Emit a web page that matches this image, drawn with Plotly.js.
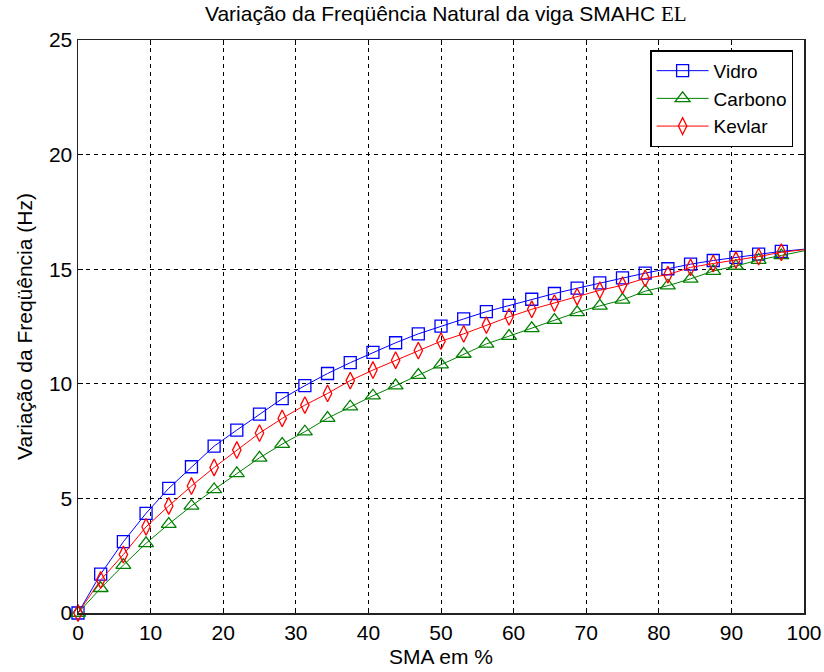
<!DOCTYPE html>
<html>
<head>
<meta charset="utf-8">
<script src="https://cdn.plot.ly/plotly-3.0.1.min.js"></script>
<style>body{margin:0;background:#fff}#chart{width:824px;height:672px}</style>
</head>
<body>
<div id="chart"></div>
<script>
// SMA content (%) at each computed point (last point = 100, drawn without marker)
const sma = [0, 3.125, 6.25, 9.375, 12.5, 15.625, 18.75, 21.875, 25, 28.125, 31.25, 34.375,
  37.5, 40.625, 43.75, 46.875, 50, 53.125, 56.25, 59.375, 62.5, 65.625, 68.75, 71.875,
  75, 78.125, 81.25, 84.375, 87.5, 90.625, 93.75, 96.875, 100];
const vidro = [0, 1.70, 3.11, 4.35, 5.44, 6.38, 7.28, 7.98, 8.68, 9.35, 9.92, 10.45, 10.92,
  11.37, 11.79, 12.18, 12.52, 12.83, 13.15, 13.42, 13.69, 13.94, 14.17, 14.40, 14.62,
  14.83, 15.02, 15.22, 15.38, 15.52, 15.66, 15.78, 15.87];
const carbono = [0, 1.08, 2.09, 3.04, 3.88, 4.67, 5.39, 6.09, 6.77, 7.37, 7.91, 8.50, 9.00,
  9.48, 9.92, 10.38, 10.84, 11.30, 11.74, 12.08, 12.42, 12.78, 13.12, 13.40, 13.66,
  14.04, 14.28, 14.58, 14.92, 15.14, 15.40, 15.60, 15.80];
const kevlar = [0, 1.44, 2.55, 3.76, 4.67, 5.54, 6.35, 7.11, 7.85, 8.49, 9.07, 9.58, 10.14,
  10.60, 11.03, 11.45, 11.86, 12.18, 12.56, 12.92, 13.25, 13.52, 13.80, 14.08, 14.30,
  14.60, 14.76, 15.08, 15.25, 15.40, 15.55, 15.74, 15.85];
const seriesNames = ['Vidro', 'Carbono', 'Kevlar'];
const xTicks = [0, 10, 20, 30, 40, 50, 60, 70, 80, 90, 100];
const yTicks = [0, 5, 10, 15, 20, 25];

const styles = [
  {color: '#0000ff', symbol: 'square-open', size: 12},
  {color: '#008000', symbol: 'triangle-up-open', size: 13},
  {color: '#ff0000', symbol: 'diamond-tall-open', size: 12}
];
const data = [vidro, carbono, kevlar];
const n = sma.length;
const traces = [];
data.forEach((ys, i) => {
  traces.push({
    x: sma.slice(0, n - 1), y: ys.slice(0, n - 1), name: seriesNames[i],
    type: 'scatter', mode: 'lines+markers', cliponaxis: false,
    line: {color: styles[i].color, width: 1},
    marker: {symbol: styles[i].symbol, size: styles[i].size, color: styles[i].color,
             line: {color: styles[i].color, width: 1.3}}
  });
  traces.push({
    x: sma.slice(n - 2), y: ys.slice(n - 2), showlegend: false, hoverinfo: 'skip',
    type: 'scatter', mode: 'lines', line: {color: styles[i].color, width: 1}
  });
});

const font = {family: '"Liberation Sans Narrow", "Liberation Sans", Arial, sans-serif', size: 21, color: '#000'};
const axisCommon = {
  showline: true, mirror: 'ticks', linecolor: '#222', linewidth: 1.5,
  ticks: 'inside', ticklen: 5, tickcolor: '#000', tickwidth: 1,
  showgrid: true, gridcolor: '#000', gridwidth: 1, griddash: '4px,4px',
  zeroline: false, tickfont: font
};
const layout = {
  width: 824, height: 672,
  margin: {l: 78, r: 20, t: 40, b: 59},
  paper_bgcolor: '#fff', plot_bgcolor: '#fff',
  font: font,
  title: {text: 'Variação da Freqüência Natural da viga SMAHC <span style="font-family:\'Liberation Serif\', serif">EL</span>',
          font: font, x: 0.541, xanchor: 'center', y: 0.979, yanchor: 'middle'},
  xaxis: Object.assign({}, axisCommon, {range: [0, 100], tickvals: xTicks,
          title: {text: 'SMA em %', font: font, standoff: 6}}),
  yaxis: Object.assign({}, axisCommon, {range: [0, 25], tickvals: yTicks,
          title: {text: 'Variação da Freqüência (Hz)', font: font, standoff: 10}}),
  legend: {x: 0.985, y: 0.982, xanchor: 'right', yanchor: 'top',
           bgcolor: '#fff', bordercolor: '#000', borderwidth: 1.5,
           font: Object.assign({}, font, {size: 19}),
           tracegroupgap: 0, itemwidth: 52}
};
Plotly.newPlot('chart', traces, layout, {displayModeBar: false, staticPlot: true});
</script>
</body>
</html>
